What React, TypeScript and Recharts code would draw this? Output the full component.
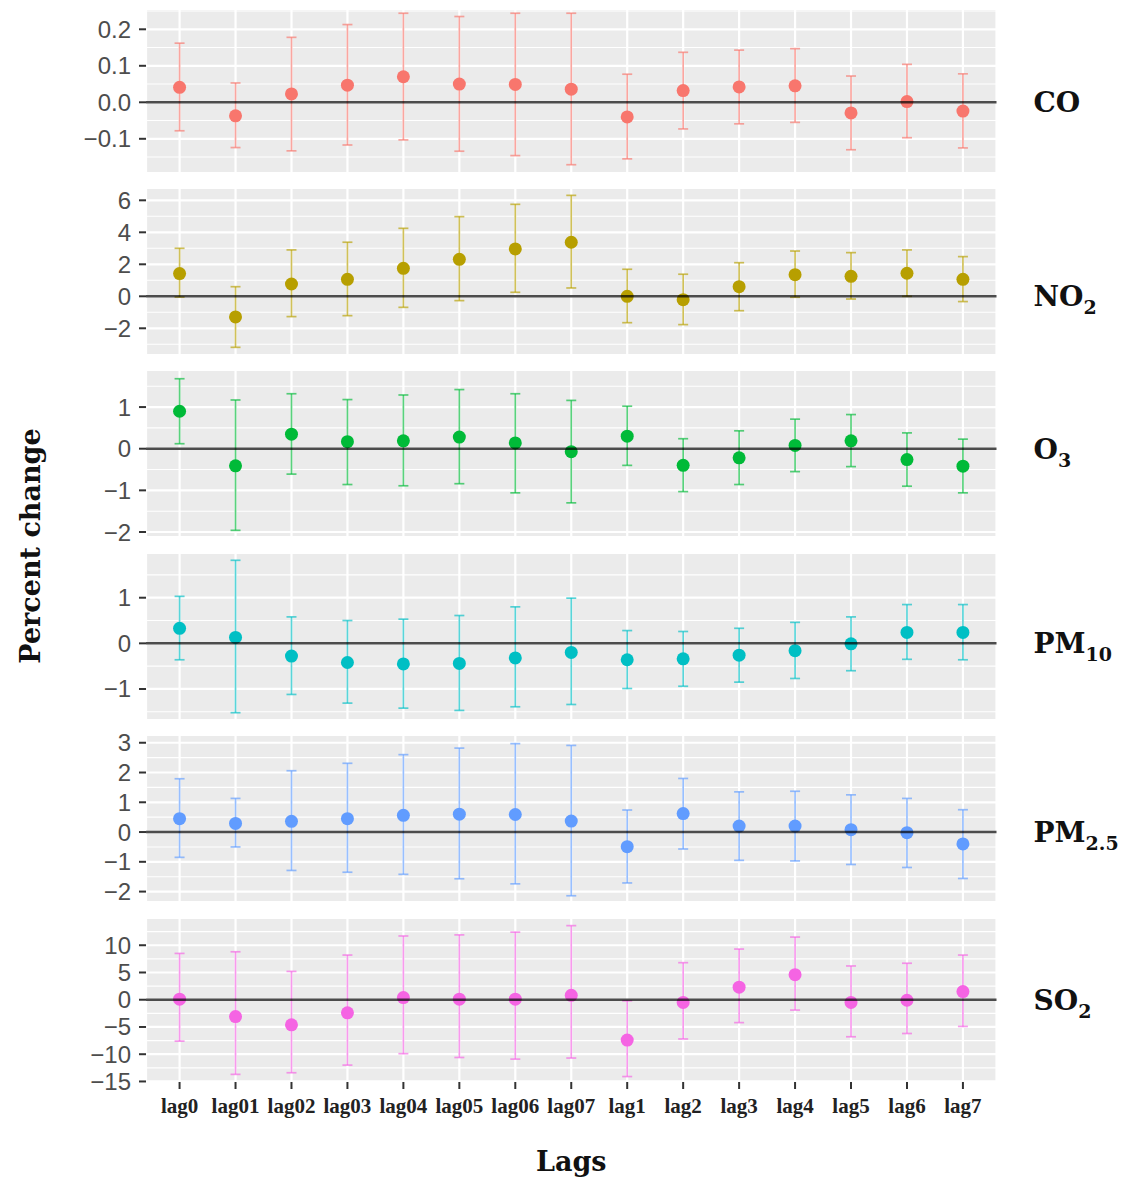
import React from "react";
import { ComposedChart, Scatter, ErrorBar, XAxis, YAxis, CartesianGrid, ReferenceLine } from "recharts";

const lags = ["lag0", "lag01", "lag02", "lag03", "lag04", "lag05", "lag06", "lag07", "lag1", "lag2", "lag3", "lag4", "lag5", "lag6", "lag7"];

const coEst = [0.041, -0.037, 0.023, 0.047, 0.07, 0.05, 0.049, 0.036, -0.04, 0.032, 0.042, 0.045, -0.029, 0.002, -0.024];
const coLow = [-0.078, -0.124, -0.133, -0.117, -0.103, -0.134, -0.146, -0.171, -0.155, -0.073, -0.059, -0.055, -0.13, -0.097, -0.125];
const coHigh = [0.162, 0.053, 0.178, 0.213, 0.244, 0.235, 0.244, 0.244, 0.077, 0.137, 0.143, 0.147, 0.072, 0.104, 0.078];
const coTicks = [-0.1, 0, 0.1, 0.2];

const no2Est = [1.42, -1.29, 0.77, 1.06, 1.75, 2.31, 2.96, 3.38, 0.0, -0.21, 0.6, 1.35, 1.25, 1.44, 1.06];
const no2Low = [-0.05, -3.19, -1.27, -1.21, -0.69, -0.27, 0.25, 0.52, -1.65, -1.77, -0.9, -0.06, -0.17, 0.0, -0.33];
const no2High = [3.0, 0.6, 2.9, 3.38, 4.25, 4.98, 5.75, 6.31, 1.69, 1.38, 2.1, 2.83, 2.73, 2.9, 2.48];
const no2Ticks = [-2, 0, 2, 4, 6];

const o3Est = [0.9, -0.41, 0.35, 0.17, 0.19, 0.28, 0.14, -0.07, 0.3, -0.4, -0.22, 0.08, 0.19, -0.26, -0.42];
const o3Low = [0.12, -1.96, -0.61, -0.86, -0.89, -0.84, -1.06, -1.3, -0.4, -1.03, -0.86, -0.55, -0.43, -0.9, -1.06];
const o3High = [1.68, 1.17, 1.32, 1.18, 1.29, 1.42, 1.32, 1.16, 1.02, 0.24, 0.43, 0.71, 0.82, 0.38, 0.23];
const o3Ticks = [-2, -1, 0, 1];

const pm10Est = [0.33, 0.13, -0.28, -0.42, -0.45, -0.44, -0.32, -0.2, -0.36, -0.34, -0.26, -0.16, -0.01, 0.24, 0.24];
const pm10Low = [-0.36, -1.52, -1.12, -1.31, -1.42, -1.47, -1.39, -1.34, -0.99, -0.94, -0.85, -0.77, -0.6, -0.35, -0.36];
const pm10High = [1.03, 1.82, 0.58, 0.5, 0.53, 0.61, 0.8, 0.99, 0.28, 0.26, 0.33, 0.46, 0.58, 0.85, 0.85];
const pm10Ticks = [-1, 0, 1];

const pm25Est = [0.45, 0.29, 0.36, 0.45, 0.56, 0.6, 0.59, 0.37, -0.49, 0.62, 0.2, 0.2, 0.08, -0.02, -0.4];
const pm25Low = [-0.85, -0.5, -1.29, -1.35, -1.42, -1.57, -1.74, -2.14, -1.71, -0.57, -0.95, -0.97, -1.09, -1.19, -1.56];
const pm25High = [1.79, 1.13, 2.06, 2.31, 2.6, 2.82, 2.97, 2.91, 0.74, 1.8, 1.35, 1.37, 1.25, 1.13, 0.75];
const pm25Ticks = [-2, -1, 0, 1, 2, 3];

const so2Est = [0.1, -3.1, -4.6, -2.4, 0.4, 0.1, 0.1, 0.8, -7.4, -0.5, 2.3, 4.6, -0.5, -0.1, 1.5];
const so2Low = [-7.6, -13.7, -13.4, -12.0, -9.9, -10.6, -10.9, -10.7, -14.1, -7.2, -4.2, -1.9, -6.8, -6.2, -4.9];
const so2High = [8.5, 8.8, 5.2, 8.2, 11.7, 11.9, 12.4, 13.6, -0.2, 6.8, 9.3, 11.5, 6.2, 6.7, 8.2];
const so2Ticks = [-15, -10, -5, 0, 5, 10];

const W = 1137;
const H = 1184;
const PLOT_LEFT = 146;
const PLOT_RIGHT = 996.5;
const PAD = 14;
const X_AXIS_H = 46;

const lagIdx = lags.map((_, i) => i);

type Panel = {
  main: string;
  sub: string;
  color: string;
  est: number[];
  low: number[];
  high: number[];
  ticks: number[];
  domain: [number, number];
  digits: number;
  top: number;
  height: number;
};

const panels: Panel[] = [
  { main: "CO", sub: "", color: "#F8766D", est: coEst, low: coLow, high: coHigh, ticks: coTicks, domain: [-0.1937, 0.2556], digits: 1, top: 9, height: 164 },
  { main: "NO", sub: "2", color: "#B79F00", est: no2Est, low: no2Low, high: no2High, ticks: no2Ticks, domain: [-3.67, 6.77], digits: 0, top: 188, height: 167 },
  { main: "O", sub: "3", color: "#00BA38", est: o3Est, low: o3Low, high: o3High, ticks: o3Ticks, domain: [-2.12, 1.89], digits: 0, top: 370, height: 167 },
  { main: "PM", sub: "10", color: "#00BFC4", est: pm10Est, low: pm10Low, high: pm10High, ticks: pm10Ticks, domain: [-1.68, 1.98], digits: 0, top: 553, height: 167 },
  { main: "PM", sub: "2.5", color: "#619CFF", est: pm25Est, low: pm25Low, high: pm25High, ticks: pm25Ticks, domain: [-2.35, 3.26], digits: 0, top: 735, height: 167 },
  { main: "SO", sub: "2", color: "#F564E3", est: so2Est, low: so2Low, high: so2High, ticks: so2Ticks, domain: [-15.1, 15.0], digits: 0, top: 918, height: 164 },
];

// minor grid lines halfway between the major ticks
function minorOf(ticks: number[], domain: [number, number]) {
  const step = ticks[1] - ticks[0];
  const out: number[] = [];
  for (let v = ticks[0] - step / 2; v <= domain[1]; v += step) {
    if (v >= domain[0]) out.push(Number(v.toFixed(6)));
  }
  return out;
}

function fmt(v: number, digits: number) {
  const s = v.toFixed(digits);
  return s.startsWith("-") ? "\u2212" + s.slice(1) : s;
}

function StripLabel({ viewBox, main, sub }: any) {
  if (!viewBox) return null;
  const x = viewBox.x + viewBox.width + 37;
  return (
    <text x={x} y={viewBox.y} dy={10} fontFamily="DejaVu Serif" fontWeight="bold" fontSize={28} fill="#111">
      {main}
      {sub ? <tspan fontSize={19} dy={8}>{sub}</tspan> : null}
    </text>
  );
}

function PanelChart({ p, last }: { p: Panel; last: boolean }) {
  const rows = p.est.map((v, i) => ({ x: i, y: v, err: [v - p.low[i], p.high[i] - v] }));
  const minor = minorOf(p.ticks, p.domain);
  return (
    <div style={{ position: "absolute", left: 0, top: p.top - PAD }}>
      <ComposedChart
        width={W}
        height={p.height + PAD + (last ? X_AXIS_H : PAD)}
        margin={{ top: PAD, right: W - PLOT_RIGHT, bottom: last ? 0 : PAD, left: 0 }}
      >
        <CartesianGrid fill="#EBEBEB" stroke="#FFFFFF" strokeWidth={2.2} />
        <CartesianGrid fill="none" stroke="#FFFFFF" strokeWidth={1.1} vertical={false} horizontalValues={minor} />
        <XAxis
          type="number"
          dataKey="x"
          domain={[-0.6, lags.length - 0.4]}
          ticks={lagIdx}
          interval={0}
          allowDataOverflow
          tickFormatter={(i: number) => lags[i]}
          hide={!last}
          height={X_AXIS_H}
          axisLine={false}
          tickSize={7}
          tickMargin={9}
          tickLine={{ stroke: "#333333", strokeWidth: 2 }}
          tick={{ fontFamily: "Liberation Serif", fontSize: 21, fontWeight: "bold", fill: "#222222" }}
        />
        <YAxis
          type="number"
          dataKey="y"
          domain={p.domain}
          ticks={p.ticks}
          interval={0}
          allowDataOverflow
          width={PLOT_LEFT}
          axisLine={false}
          tickSize={7}
          tickMargin={8}
          tickLine={{ stroke: "#333333", strokeWidth: 2 }}
          tick={{ fontFamily: "Liberation Sans", fontSize: 24, fill: "#4D4D4D" }}
          tickFormatter={(v: number) => fmt(v, p.digits)}
        />
        <Scatter
          data={rows}
          fill={p.color}
          isAnimationActive={false}
          shape={(s: any) => <circle cx={s.cx} cy={s.cy} r={6.5} fill={p.color} />}
        >
          <ErrorBar dataKey="err" direction="y" width={5} stroke={p.color} strokeOpacity={0.65} strokeWidth={1.7} isAnimationActive={false} />
        </Scatter>
        <ReferenceLine
          y={0}
          zIndex={900}
          stroke="#000000"
          strokeOpacity={0.7}
          strokeWidth={2.5}
          label={{ content: (lp: any) => <StripLabel viewBox={lp.viewBox} main={p.main} sub={p.sub} /> }}
        />
      </ComposedChart>
    </div>
  );
}

export default function App() {
  return (
    <div style={{ position: "absolute", left: 0, top: 0, width: W, height: H, background: "#FFFFFF" }}>
      {panels.map((p, i) => (
        <PanelChart key={p.main + p.sub} p={p} last={i === panels.length - 1} />
      ))}
      <svg width={W} height={H} style={{ position: "absolute", left: 0, top: 0, pointerEvents: "none" }}>
        <text
          transform="translate(30 546) rotate(-90)"
          textAnchor="middle"
          dominantBaseline="central"
          fontFamily="DejaVu Serif"
          fontWeight="bold"
          fontSize={27}
          fill="#111"
        >
          Percent change
        </text>
        <text x={(PLOT_LEFT + PLOT_RIGHT) / 2} y={1171} textAnchor="middle" fontFamily="DejaVu Serif" fontWeight="bold" fontSize={27} fill="#111">
          Lags
        </text>
      </svg>
    </div>
  );
}
